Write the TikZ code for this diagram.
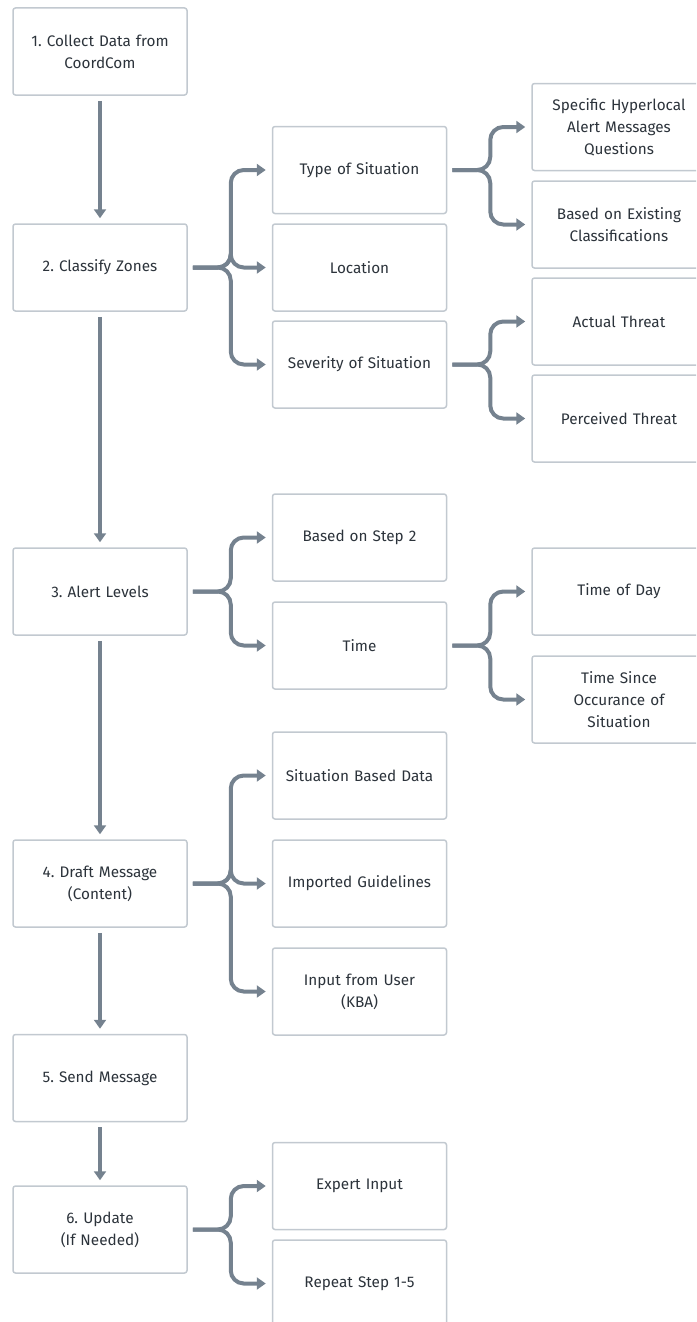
\documentclass[tikz,border=0pt]{standalone}
\usepackage{fontspec}
\setmainfont{Fira Sans}
\usetikzlibrary{arrows.meta}
\definecolor{boxline}{HTML}{C2C9D0}
\definecolor{arrowc}{HTML}{75828F}
\definecolor{txt}{HTML}{2C333B}
\frenchspacing
\tikzset{
  box/.style={draw=boxline, line width=1.5pt, rounded corners=2.5pt, fill=white,
    minimum width=174pt, minimum height=87pt, inner sep=4pt, align=center,
    text=txt, font=\fontsize{15.3}{22}\selectfont, text width=166pt},
  conn/.style={draw=arrowc, line width=4pt, rounded corners=13pt,
    -{Triangle[length=9pt,width=12pt]}},
  vconn/.style={draw=arrowc, line width=4pt, -{Triangle[length=9pt,width=12pt]},
    shorten <=5pt, shorten >=5pt}
}
\begin{document}
\begin{tikzpicture}[x=1pt,y=-1pt]
\useasboundingbox (0,0) rectangle (696,1322);
\begin{scope}
\clip (0,0) rectangle (696,1322);
% main column
\node[box] (s1) at (100,51.5) {1. Collect Data from\\CoordCom};
\node[box] (s2) at (100,267.5) {2. Classify Zones};
\node[box] (s3) at (100,591.5) {3. Alert Levels};
\node[box] (s4) at (100,883.5) {4. Draft Message\\(Content)};
\node[box] (s5) at (100,1078) {5. Send Message};
\node[box] (s6) at (100,1229.5) {6. Update\\(If Needed)};
% second column
\node[box] (type) at (359.5,170) {Type of Situation};
\node[box] (loc) at (359.5,267.5) {Location};
\node[box] (sev) at (359.5,364.5) {Severity of Situation};
\node[box] (bs2) at (359.5,537.5) {Based on Step 2};
\node[box] (time) at (359.5,645.5) {Time};
\node[box] (sbd) at (359.5,775.5) {Situation Based Data};
\node[box] (imp) at (359.5,883.5) {Imported Guidelines};
\node[box] (inp) at (359.5,991.5) {Input from User\\(KBA)};
\node[box] (exp) at (359.5,1186) {Expert Input};
\node[box] (rep) at (359.5,1283.5) {Repeat Step 1-5};
% third column
\node[box] (shl) at (619,127) {Specific Hyperlocal\\Alert Messages\\Questions};
\node[box] (bec) at (619,224.5) {Based on Existing\\Classifications};
\node[box] (act) at (619,321.5) {Actual Threat};
\node[box] (per) at (619,418.5) {Perceived Threat};
\node[box] (tod) at (619,591.5) {Time of Day};
\node[box] (tso) at (619,699.5) {Time Since\\Occurance of\\Situation};
% vertical connectors
\draw[vconn] (s1.south) -- (s2.north);
\draw[vconn] (s2.south) -- (s3.north);
\draw[vconn] (s3.south) -- (s4.north);
\draw[vconn] (s4.south) -- (s5.north);
\draw[vconn] (s5.south) -- (s6.north);
% forks from main column
\foreach \src/\tgt in {s2/type,s2/loc,s2/sev,s3/bs2,s3/time,s4/sbd,s4/imp,s4/inp,s6/exp,s6/rep}{
  \draw[conn] ([xshift=5pt]\src.east) -- ([xshift=43pt]\src.east) |- ([xshift=-6pt]\tgt.west);
}
% forks from second column
\foreach \src/\tgt in {type/shl,type/bec,sev/act,sev/per,time/tod,time/tso}{
  \draw[conn] ([xshift=5pt]\src.east) -- ([xshift=43pt]\src.east) |- ([xshift=-6pt]\tgt.west);
}
\end{scope}
\end{tikzpicture}
\end{document}
